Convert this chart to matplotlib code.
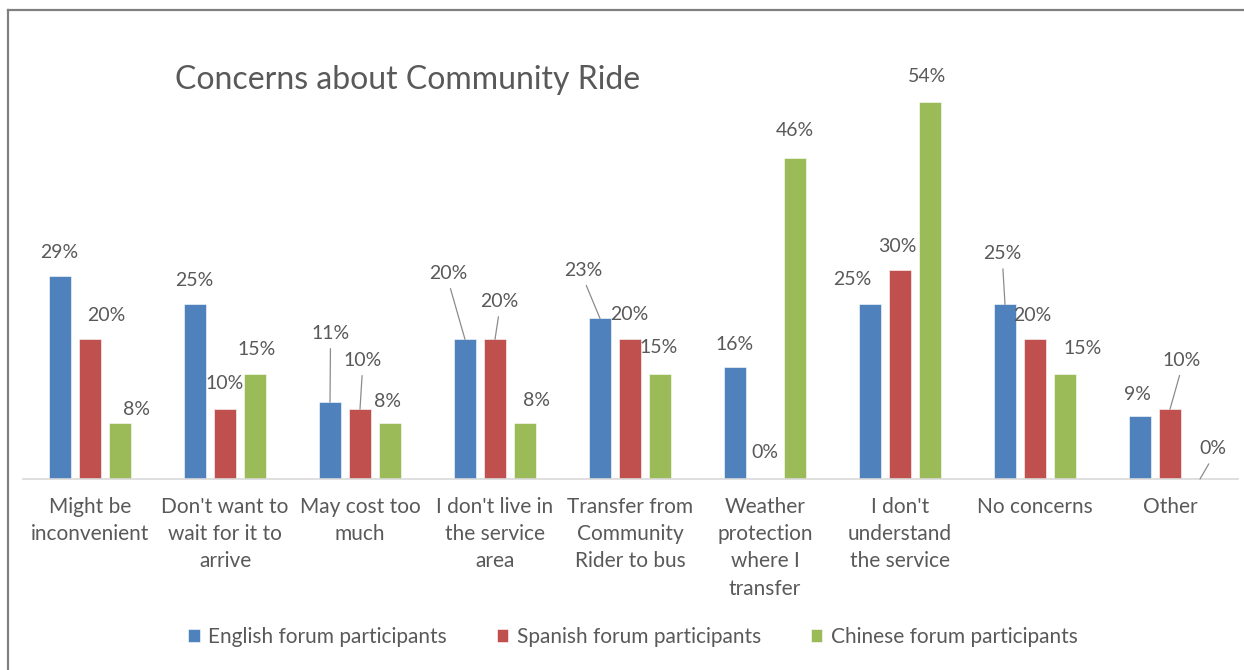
import numpy as np
import matplotlib.pyplot as plt
from matplotlib.lines import Line2D

categories = ["Might be\ninconvenient", "Don't want to\nwait for it to\narrive",
              "May cost too\nmuch", "I don't live in\nthe service\narea",
              "Transfer from\nCommunity\nRider to bus", "Weather\nprotection\nwhere I\ntransfer",
              "I don't\nunderstand\nthe service", "No concerns", "Other"]
series_names = ["English forum participants", "Spanish forum participants",
                "Chinese forum participants"]
english = [29, 25, 11, 20, 23, 16, 25, 25, 9]
spanish = [20, 10, 10, 20, 20, 0, 30, 20, 10]
chinese = [8, 15, 8, 8, 15, 46, 54, 15, 0]

colors = ["#4F81BD", "#C0504D", "#9BBB59"]
text_grey = "#595959"

# label offsets in pixels (dx, dy) from bar top
offsets = [
    [(-0.5, 24), (-0.5, 24), (0.5, 69), (-16.5, 66), (-16.5, 48), (-0.5, 23), (-17.5, 25), (-2.5, 51), (-2.5, 22)],
    [(16.5, 24), (-0.5, 26), (2.5, 49), (4.5, 38), (-0.5, 25), (-0.5, 26), (-2.5, 23), (-2.5, 24), (11.5, 49)],
    [(16.5, 14), (1.5, 25), (-2.5, 22), (11.5, 23), (-1.5, 27), (-0.5, 27), (-2.5, 25), (17.5, 26), (12.5, 30)],
]
# which labels get a leader line
leaders = [
    [2, 3, 4, 7],
    [2, 3, 8],
    [8],
]

plt.rcParams['font.family'] = ['Lato', 'DejaVu Sans']

fig = plt.figure(figsize=(12.44, 6.70), dpi=100)
ax = fig.add_axes([22.5 / 1244, 1 - 479 / 670, 1215 / 1244, 419 / 670])

x = np.arange(len(categories))
width = 0.17
step = 30 / 135
all_vals = [english, spanish, chinese]
for i, vals in enumerate(all_vals):
    xs = x + (i - 1) * step
    ax.bar(xs, vals, width, color=colors[i], label=series_names[i],
           edgecolor='white', linewidth=0.4, zorder=2)
    for j, v in enumerate(vals):
        dx, dy = offsets[i][j]
        kw = {}
        if j in leaders[i]:
            kw['arrowprops'] = dict(arrowstyle='-', color='#8C8C8C', lw=0.9,
                                    shrinkA=3, shrinkB=0, relpos=(0.5, 0))
        ax.annotate(f"{v}%", xy=(xs[j], v), xytext=(dx, dy),
                    textcoords='offset pixels', ha='center', va='center',
                    fontsize=14, color=text_grey, **kw)

ax.set_xlim(-0.5, len(categories) - 0.5)
ax.set_ylim(0, 60)
ax.set_xticks(x)
ax.set_xticklabels(categories, fontsize=15, color=text_grey, linespacing=1.45)
ax.tick_params(axis='x', length=0, pad=13)
ax.set_yticks([])
for s in ['top', 'right', 'left']:
    ax.spines[s].set_visible(False)
ax.spines['bottom'].set_color('#D9D9D9')
ax.spines['bottom'].set_linewidth(1.2)

fig.text(175 / 1244, 1 - 80 / 670, "Concerns about Community Ride", fontsize=23,
         color=text_grey, ha='left', va='center')

fig.legend(loc='center', bbox_to_anchor=(633 / 1244, 1 - 637 / 670), ncol=3,
           frameon=False, fontsize=15, handlelength=0.55, handleheight=0.55,
           handletextpad=0.4, columnspacing=2.4, labelcolor=text_grey)

# outer frame (top and left edges visible)
fig.add_artist(Line2D([8 / 1244, 1], [1 - 10 / 670, 1 - 10 / 670], color='#808080', lw=1.6))
fig.add_artist(Line2D([8 / 1244, 8 / 1244], [0, 1 - 10 / 670], color='#808080', lw=1.6))

fig.savefig('out.png', dpi=100)
